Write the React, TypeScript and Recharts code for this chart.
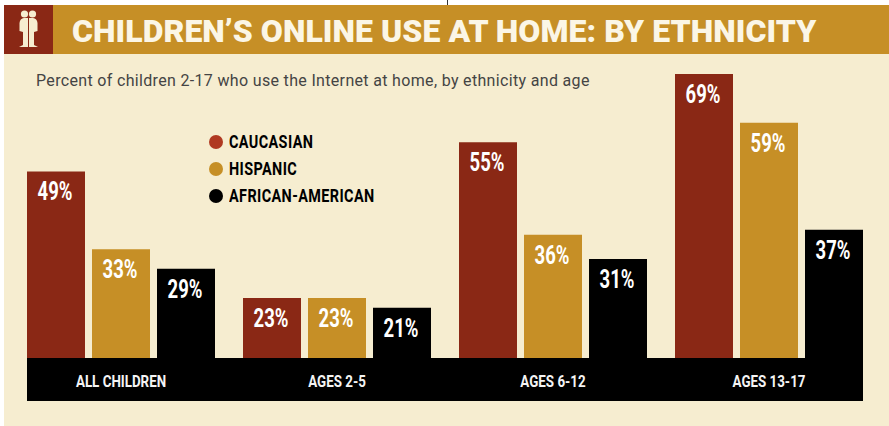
import React from "react";
import { BarChart, Bar, XAxis, YAxis, LabelList, Legend } from "recharts";

const categories = ["ALL CHILDREN", "AGES 2-5", "AGES 6-12", "AGES 13-17"];
const caucasian = [49, 23, 55, 69];
const hispanic = [33, 23, 36, 59];
const africanAmerican = [29, 21, 31, 37];
const seriesNames = ["CAUCASIAN", "HISPANIC", "AFRICAN-AMERICAN"];
const legendColors = ["#B03A22", "#C68F26", "#000000"];

const BROWN = "#8A2815";
const GOLD = "#C68F26";
const PANEL = "#F6EDD0";
const FONT = "Roboto, sans-serif";

const data = categories.map((c, i) => ({
  category: c,
  caucasian: caucasian[i],
  hispanic: hispanic[i],
  africanAmerican: africanAmerican[i],
}));

function BarLabel(props: any) {
  const { x, y, width, value } = props;
  const cx = Number(x) + Number(width) / 2 - 1;
  const cy = Number(y) + 29;
  return (
    <text
      transform={`translate(${cx},${cy}) scale(0.74,1)`}
      textAnchor="middle"
      fill="#FFFFFF"
      fontFamily={FONT}
      fontWeight={700}
      fontSize={25}
    >
      {`${value}%`}
    </text>
  );
}

function CategoryTick(props: any) {
  const { x, y, payload } = props;
  return (
    <text
      transform={`translate(${x},${y + 21}) scale(0.81,1)`}
      textAnchor="middle"
      fill="#F4F4F4"
      fontFamily={FONT}
      fontWeight={700}
      fontSize={16.5}
    >
      {payload.value}
    </text>
  );
}

function LegendBox() {
  return (
    <div style={{ display: "flex", flexDirection: "column" }}>
      {seriesNames.map((n, i) => (
        <div key={n} style={{ display: "flex", alignItems: "center", height: 27 }}>
          <span
            style={{
              width: 14,
              height: 14,
              borderRadius: 7,
              background: legendColors[i],
              marginRight: 6,
              flexShrink: 0,
            }}
          />
          <span
            style={{
              fontFamily: FONT,
              fontWeight: 700,
              fontSize: 18.5,
              color: "#000",
              letterSpacing: 0.5,
              whiteSpace: "nowrap",
              transform: "scaleX(0.78)",
              transformOrigin: "left center",
            }}
          >
            {n}
          </span>
        </div>
      ))}
    </div>
  );
}

export default function App() {
  return (
    <div style={{ position: "absolute", left: 0, top: 0, width: 889, height: 426, background: "#FFFFFF", overflow: "hidden" }}>
      <div style={{ position: "absolute", left: 447, top: 0, width: 1, height: 5, background: "#333" }} />
      <div style={{ position: "absolute", left: 4, top: 54, width: 885, height: 372, background: PANEL }} />
      <div style={{ position: "absolute", left: 53, top: 5, width: 836, height: 49, background: GOLD }} />
      <div style={{ position: "absolute", left: 4, top: 5, width: 49, height: 49, background: BROWN }} />
      <svg style={{ position: "absolute", left: 4, top: 5 }} width={49} height={49}>
        <g fill="#F6EDD0">
          <circle cx={20.5} cy={9} r={3.6} />
          <circle cx={28.5} cy={9} r={3.6} />
          <path d="M24 13 L24 42 L15 42 L19 40 L19 27 L15.5 26 L15.5 18 Q16 13.5 20 13 Z" />
          <path d="M25 13 L25 42 L34 42 L30 40 L30 27 L33.5 26 L33.5 18 Q33 13.5 29 13 Z" />
        </g>
      </svg>
      <div
        style={{
          position: "absolute",
          left: 72,
          top: 5,
          height: 49,
          lineHeight: "52px",
          fontFamily: FONT,
          fontWeight: 900,
          fontSize: 32,
          letterSpacing: 0.05,
          color: "#FBF6E6",
          whiteSpace: "nowrap",
        }}
      >
        CHILDREN’S ONLINE USE AT HOME: BY ETHNICITY
      </div>
      <div
        style={{
          position: "absolute",
          left: 36,
          top: 71,
          fontFamily: FONT,
          fontSize: 16,
          letterSpacing: 0.33,
          color: "#444",
          whiteSpace: "nowrap",
        }}
      >
        Percent of children 2-17 who use the Internet at home, by ethnicity and age
      </div>
      <div style={{ position: "absolute", left: 27, top: 358, width: 836, height: 43, background: "#000" }} />
      <div style={{ position: "absolute", left: 0, top: 0 }}>
        <BarChart
          width={889}
          height={426}
          data={data}
          margin={{ top: 54, right: 12, bottom: 25, left: 13 }}
          barCategoryGap={14}
          barGap={7}
          barSize={58}
        >
          <XAxis
            dataKey="category"
            height={43}
            axisLine={false}
            tickLine={false}
            interval={0}
            tick={<CategoryTick />}
          />
          <YAxis hide domain={[10.7, 73.1]} allowDataOverflow />
          <Legend
            layout="vertical"
            align="center"
            verticalAlign="middle"
            wrapperStyle={{ left: 209, top: 128, width: 200 }}
            content={() => <LegendBox />}
          />
          <Bar dataKey="caucasian" name={seriesNames[0]} fill={BROWN} isAnimationActive={false}>
            <LabelList dataKey="caucasian" content={<BarLabel />} />
          </Bar>
          <Bar dataKey="hispanic" name={seriesNames[1]} fill={GOLD} isAnimationActive={false}>
            <LabelList dataKey="hispanic" content={<BarLabel />} />
          </Bar>
          <Bar dataKey="africanAmerican" name={seriesNames[2]} fill="#000000" isAnimationActive={false}>
            <LabelList dataKey="africanAmerican" content={<BarLabel />} />
          </Bar>
        </BarChart>
      </div>
    </div>
  );
}
